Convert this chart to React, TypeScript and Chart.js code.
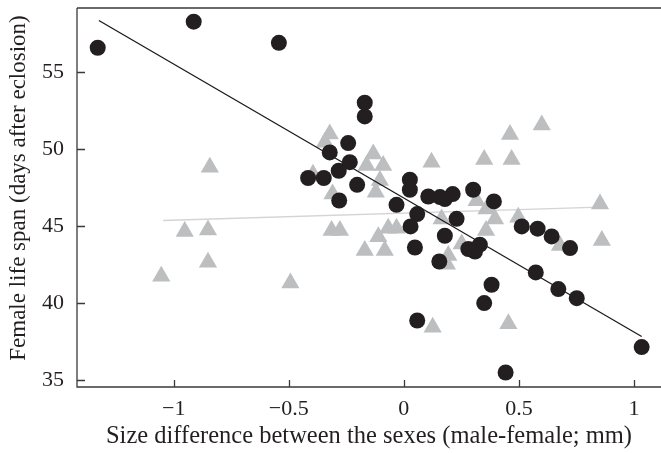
import React, { useEffect, useRef } from "react";
import { Chart, registerables } from "chart.js";

Chart.register(...registerables);

// Black circles
const circleX = [
  -1.330, -0.913, -0.543, -0.170, -0.170, -0.242, -0.322, -0.235, -0.283, -0.416,
  -0.348, -0.203, -0.281, 0.026, 0.026, -0.032, 0.106, 0.157, 0.178, 0.212,
  0.301, 0.391, 0.058, 0.029, 0.229, 0.178, 0.048, 0.280, 0.330, 0.309,
  0.154, 0.512, 0.581, 0.642, 0.722, 0.573, 0.671, 0.751, 0.381, 0.349,
  0.058, 0.442, 1.033,
];
const circleY = [
  56.56, 58.25, 56.88, 52.99, 52.10, 50.37, 49.76, 49.13, 48.57, 48.10,
  48.10, 47.66, 46.64, 47.99, 47.34, 46.36, 46.90, 46.86, 46.73, 47.06,
  47.34, 46.58, 45.76, 44.96, 45.45, 44.35, 43.59, 43.49, 43.77, 43.33,
  42.68, 44.96, 44.81, 44.31, 43.55, 41.97, 40.89, 40.30, 41.17, 39.98,
  38.85, 35.47, 37.12,
];

// Gray triangles
const triX = [
  -1.054, -0.952, -0.851, -0.851, -0.843, -0.493, -0.322, -0.343, -0.395, -0.314,
  -0.278, -0.310, -0.133, -0.162, -0.090, -0.104, -0.122, -0.111, -0.068, -0.032,
  -0.170, -0.083, 0.120, 0.125, 0.349, 0.468, 0.461, 0.599, 0.316, 0.359,
  0.396, 0.357, 0.497, 0.164, 0.251, 0.193, 0.187, 0.454, 0.678, 0.852,
  0.860,
];
const triY = [
  41.72, 44.63, 44.73, 42.63, 48.80, 41.29, 50.96, 50.42, 48.34, 44.69,
  44.69, 47.07, 49.66, 48.91, 48.91, 47.94, 47.18, 44.29, 44.84, 44.84,
  43.39, 43.39, 49.13, 38.41, 49.30, 49.30, 50.92, 51.55, 46.63, 46.09,
  45.44, 44.69, 45.55, 45.44, 43.82, 43.07, 42.50, 38.63, 43.72, 46.42,
  44.04,
];

// Regression lines (end points)
const blackLineX = [-1.325, 1.033];
const blackLineY = [58.33, 37.81];
const grayLineX = [-1.046, 0.852];
const grayLineY = [45.34, 46.21];

// Ticks
const xTickValues = [-1, -0.5, 0, 0.5, 1];
const xTickLabels = ["\u22121", "\u22120.5", "0", "0.5", "1"];
const yTickValues = [35, 40, 45, 50, 55];

const FONT = "'Liberation Serif', 'DejaVu Serif', serif";
const INK = "#231f20";
const AXIS = "#3a3a3a";

const toPts = (xs: number[], ys: number[]) => xs.map((x, i) => ({ x, y: ys[i] }));

const framePlugin = {
  id: "frame",
  afterDraw(chart: any) {
    const { ctx, chartArea } = chart;
    const { left, right, top, bottom } = chartArea;
    const xs = chart.scales.x;
    const ys = chart.scales.y;
    ctx.save();
    ctx.strokeStyle = AXIS;
    ctx.lineWidth = 1.3;
    ctx.beginPath();
    ctx.moveTo(left, top);
    ctx.lineTo(right, top);
    ctx.moveTo(left, top);
    ctx.lineTo(left, bottom);
    ctx.lineTo(right, bottom);
    for (const v of xTickValues) {
      const px = Math.round(xs.getPixelForValue(v)) + 0.5;
      ctx.moveTo(px, bottom);
      ctx.lineTo(px, bottom - 7);
    }
    for (const v of yTickValues) {
      const py = Math.round(ys.getPixelForValue(v)) + 0.5;
      ctx.moveTo(left, py);
      ctx.lineTo(left + 8, py);
    }
    ctx.stroke();
    // y-axis title
    ctx.fillStyle = INK;
    ctx.font = `23px ${FONT}`;
    ctx.textAlign = "center";
    ctx.textBaseline = "middle";
    ctx.translate(19, 188);
    ctx.rotate(-Math.PI / 2);
    ctx.fillText("Female life span (days after eclosion)", 0, 0);
    ctx.restore();
  },
};

export default function App() {
  const ref = useRef<HTMLCanvasElement | null>(null);
  useEffect(() => {
    if (!ref.current) return;
    const chart = new Chart(ref.current, {
      type: "scatter",
      data: {
        datasets: [
          {
            label: "circles",
            data: toPts(circleX, circleY),
            pointStyle: "circle",
            pointRadius: 8,
            pointHoverRadius: 8,
            backgroundColor: INK,
            borderColor: INK,
            borderWidth: 0,
            order: 0,
          },
          {
            type: "line",
            label: "fitBlack",
            data: toPts(blackLineX, blackLineY),
            borderColor: "#1a1a1a",
            borderWidth: 1.3,
            pointRadius: 0,
            fill: false,
            order: 1,
          } as any,
          {
            label: "triangles",
            data: toPts(triX, triY),
            pointStyle: "triangle",
            pointRadius: 10.5,
            pointHoverRadius: 10.5,
            backgroundColor: "#bcbec0",
            borderColor: "#bcbec0",
            borderWidth: 0,
            order: 2,
          },
          {
            type: "line",
            label: "fitGray",
            data: toPts(grayLineX, grayLineY),
            borderColor: "#d4d4d4",
            borderWidth: 1.5,
            pointRadius: 0,
            fill: false,
            order: 3,
          } as any,
        ],
      },
      options: {
        animation: false,
        responsive: false,
        events: [],
        layout: { autoPadding: false, padding: { top: 8, left: 0, right: 0, bottom: 0 } },
        plugins: {
          legend: { display: false },
          tooltip: { enabled: false },
        },
        scales: {
          x: {
            type: "linear",
            min: -1.42,
            max: 1.117,
            grid: { display: false, drawTicks: false },
            border: { display: false },
            afterBuildTicks: (s: any) => {
              s.ticks = xTickValues.map((v) => ({ value: v }));
            },
            afterFit: (s: any) => {
              s.height = 66;
              s.paddingLeft = 0;
              s.paddingRight = 0;
            },
            ticks: {
              padding: 9,
              color: INK,
              font: { family: FONT, size: 22 },
              maxRotation: 0,
              autoSkip: false,
              callback: (v: any) => {
                const i = xTickValues.indexOf(Number(v));
                return i >= 0 ? xTickLabels[i] : "";
              },
            },
            title: {
              display: true,
              text: "Size difference between the sexes (male-female; mm)",
              color: INK,
              font: { family: FONT, size: 24.5 },
              padding: { top: 0, bottom: 2 },
            },
          },
          y: {
            type: "linear",
            min: 34.53,
            max: 59.14,
            grid: { display: false, drawTicks: false },
            border: { display: false },
            afterBuildTicks: (s: any) => {
              s.ticks = yTickValues.map((v) => ({ value: v }));
            },
            afterFit: (s: any) => {
              s.width = 77;
              s.paddingTop = 0;
              s.paddingBottom = 0;
            },
            ticks: {
              padding: 13,
              color: INK,
              font: { family: FONT, size: 22 },
              autoSkip: false,
            },
          },
        },
      },
      plugins: [framePlugin],
    });
    return () => chart.destroy();
  }, []);
  return (
    <div style={{ position: "absolute", left: 0, top: 0, width: 661, height: 453, background: "#fff" }}>
      <canvas ref={ref} width={661} height={453} />
    </div>
  );
}
